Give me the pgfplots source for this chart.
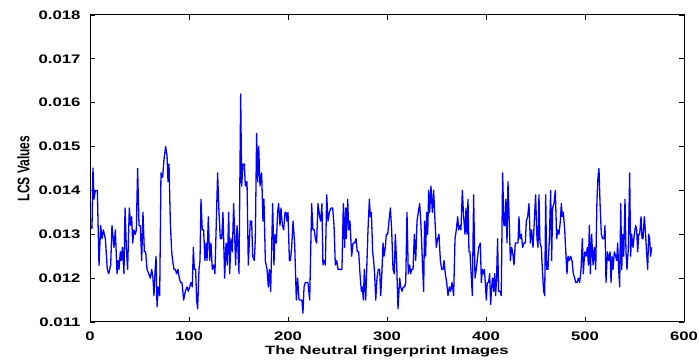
\documentclass[border=0pt]{standalone}
\usepackage{pgfplots}
\pgfplotsset{compat=1.18}
\usepackage{pgfplotstable}
\usepackage{fontspec}
\setmainfont{Liberation Sans}
\pgfplotstableread{
x y
1 0.0132
2 0.01313
3 0.01451
4 0.0138
5.4 0.0140
7.4 0.0140
9.1 0.01229
10.8 0.0132
12.1 0.0129
13.5 0.0131
15.5 0.0129
17.5 0.0122
18.9 0.0121
20.9 0.0123
22.2 0.0132
24.2 0.0127
25.6 0.0131
27.3 0.0121
28.3 0.0124
29.3 0.0122
30.6 0.0126
31.6 0.0124
32.7 0.0127
34.3 0.0121
35.4 0.0136
36.7 0.0127
38.0 0.0122
39.7 0.0136
41.1 0.0132
42.1 0.0134
43.1 0.0128
44.4 0.0131
45.8 0.0130
46.8 0.0131
48.1 0.0145
49.5 0.0132
50.8 0.0132
52.2 0.0124
53.5 0.0135
54.9 0.0126
56.2 0.0126
57.6 0.0122
59.3 0.0121
60.9 0.0120
62.3 0.0122
63.6 0.0120
64.6 0.0116
65.6 0.0121
66.7 0.0125
67.7 0.01135
69.0 0.0118
70.4 0.0116
71.7 0.0144
73.4 0.0143
74.7 0.0147
76.4 0.0150
77.8 0.0148
78.8 0.0142
79.8 0.0146
81.1 0.0133
82.5 0.0126
83.5 0.0124
84.8 0.0122
86.2 0.0122
87.5 0.0121
88.9 0.0122
90.2 0.0120
91.6 0.0119
92.9 0.0119
94.6 0.0115
96.3 0.0117
98.0 0.0118
99.3 0.0117
100.7 0.0118
102.0 0.0119
103.3 0.0118
104.4 0.0127
105.4 0.0122
106.7 0.0122
107.7 0.0115
108.7 0.0113
110.1 0.0122
111.1 0.0124
112.1 0.0138
113.4 0.0131
114.8 0.0131
116.1 0.0124
117.2 0.0128
118.2 0.0124
119.5 0.0134
120.9 0.0124
122.2 0.0128
123.5 0.0122
124.9 0.0123
126.2 0.0121
128.9 0.0144
130.3 0.0135
131.6 0.0129
133.0 0.0129
134.3 0.0135
136.0 0.0120
137.4 0.0128
138.7 0.0123
140.1 0.0135
141.1 0.0121
142.4 0.0129
143.8 0.0126
145.1 0.0137
147.1 0.0123
148.5 0.0132
150.5 0.0121
152.2 0.0162
153.2 0.0141
154.5 0.0146
155.9 0.0146
156.9 0.0141
158.6 0.0142
159.9 0.0123
161.9 0.0133
163.3 0.0133
164.3 0.0125
166.0 0.0124
167.0 0.0129
168.3 0.0153
169.4 0.0142
170.4 0.0150
171.7 0.0141
173.4 0.0144
174.7 0.0133
175.7 0.0138
177.1 0.0124
178.8 0.0122
180.1 0.0118
181.1 0.0122
182.5 0.0117
184.5 0.0137
185.8 0.0123
186.8 0.0130
188.2 0.0128
189.5 0.0135
190.5 0.0137
191.9 0.0132
192.9 0.0136
194.3 0.0132
195.6 0.0131
197.0 0.0135
198.0 0.0135
199.0 0.0133
200.0 0.0135
201.4 0.0124
202.4 0.0124
203.7 0.0127
205.1 0.0133
206.7 0.0128
208.4 0.0115
209.7 0.0120
211.1 0.0115
212.8 0.0115
214.1 0.0115
215.1 0.0112
216.2 0.0118
217.5 0.0119
218.8 0.0119
220.2 0.0119
221.9 0.0115
223.9 0.0137
225.2 0.0131
226.6 0.0131
227.6 0.0129
228.9 0.0128
230.3 0.0137
232.0 0.0134
233.0 0.0133
234.3 0.0137
235.3 0.0123
236.4 0.0124
237.7 0.0123
239.1 0.0139
240.4 0.0133
241.8 0.0135
243.4 0.0136
245.1 0.0136
246.5 0.0132
247.8 0.0123
249.2 0.0124
250.5 0.0122
251.9 0.0122
253.2 0.0122
254.5 0.0122
255.9 0.0137
257.2 0.0127
258.2 0.0136
258.9 0.0129
260.3 0.0138
261.3 0.0131
262.6 0.0133
264.3 0.0125
265.7 0.0128
267.3 0.0128
268.7 0.0129
270.0 0.0126
271.4 0.0126
272.7 0.0121
274.1 0.0117
275.1 0.0118
276.1 0.0115
277.1 0.0122
278.5 0.0115
280.8 0.0131
282.2 0.0138
283.2 0.0134
284.2 0.0135
285.5 0.0126
286.5 0.0124
287.5 0.0121
288.6 0.0115
289.9 0.0120
291.2 0.0122
292.6 0.0122
293.6 0.0116
294.6 0.0120
296.0 0.0128
297.0 0.0125
298.3 0.0127
299.3 0.0130
300.7 0.0130
302.0 0.0133
303.4 0.0136
304.7 0.0131
306.1 0.0122
307.4 0.0121
308.4 0.0130
309.8 0.0123
311.1 0.0113
312.8 0.0120
313.8 0.0118
315.2 0.0117
316.5 0.0118
317.8 0.0118
318.9 0.0119
320.2 0.0135
321.5 0.0121
322.9 0.0123
323.9 0.0121
324.9 0.0122
326.3 0.0122
327.6 0.0130
329.0 0.0124
330.3 0.0133
331.6 0.0135
333.0 0.0137
334.3 0.0132
335.7 0.0124
337.0 0.0117
338.0 0.0133
339.0 0.0125
340.1 0.0135
341.1 0.0130
342.1 0.0140
343.1 0.0135
344.4 0.0141
345.8 0.0135
347.1 0.0140
348.5 0.0133
349.8 0.0127
351.2 0.0129
352.5 0.0130
353.9 0.0124
355.2 0.0122
356.6 0.0122
357.6 0.0124
358.9 0.0121
360.3 0.0119
361.6 0.0116
363.0 0.0118
364.3 0.0117
365.7 0.0119
367.3 0.0116
368.7 0.0129
370.0 0.0131
371.4 0.0134
372.4 0.0131
373.4 0.0132
374.7 0.0131
376.1 0.0140
377.4 0.0134
378.8 0.0130
379.8 0.0136
380.8 0.0130
381.8 0.0138
382.8 0.0126
383.8 0.0126
385.2 0.0120
386.2 0.0116
387.5 0.0139
388.9 0.0120
390.2 0.0122
391.6 0.0125
392.6 0.0127
394.3 0.0128
395.3 0.0119
396.3 0.0122
397.3 0.0121
398.3 0.0122
399.3 0.0119
400.3 0.0115
401.3 0.0119
402.6 0.0119
403.7 0.0121
404.7 0.0114
405.7 0.0118
406.7 0.0120
407.7 0.0117
408.7 0.0121
409.7 0.0116
410.7 0.0120
411.7 0.0129
412.7 0.0117
414.1 0.0117
415.4 0.0116
416.8 0.0144
418.1 0.0132
419.1 0.0132
420.1 0.0138
421.2 0.0128
422.2 0.0142
423.2 0.0135
424.6 0.0124
425.9 0.0127
426.9 0.0126
428.3 0.0123
429.6 0.0128
431.0 0.0128
432.3 0.0128
433.3 0.0134
434.3 0.0129
435.7 0.0130
437.0 0.0127
438.4 0.0128
439.7 0.0128
440.7 0.0133
442.1 0.0134
443.4 0.0137
444.8 0.0128
446.1 0.0131
447.5 0.0127
448.8 0.0133
450.1 0.0139
451.5 0.0129
452.5 0.0127
453.5 0.0139
454.5 0.0128
455.9 0.0127
456.9 0.0122
458.2 0.0117
459.3 0.0116
460.3 0.0139
461.3 0.0122
462.6 0.0122
464.0 0.0129
465.3 0.0140
466.3 0.0124
467.3 0.0136
468.7 0.0137
470.0 0.0140
471.4 0.0129
472.4 0.0131
473.7 0.0130
475.1 0.0133
476.1 0.0137
477.1 0.0134
478.1 0.0135
479.5 0.0131
480.8 0.0125
481.8 0.0121
482.8 0.0125
484.2 0.0124
485.5 0.0125
486.9 0.0124
488.2 0.0121
489.6 0.0120
490.6 0.0119
491.9 0.0119
493.3 0.0120
494.6 0.0119
496.0 0.0122
497.3 0.0129
498.3 0.0121
499.7 0.0126
501.0 0.0125
502.4 0.0127
503.4 0.0123
504.4 0.0132
505.4 0.0121
506.7 0.0130
508.1 0.0123
509.4 0.0127
510.8 0.0122
512.1 0.0138
513.1 0.0143
514.1 0.0145
515.2 0.0137
516.5 0.0130
517.8 0.0129
519.2 0.0129
520.2 0.0132
521.2 0.0119
522.6 0.0126
523.9 0.0124
525.3 0.0126
526.3 0.0119
527.3 0.0125
528.3 0.0122
529.6 0.0126
531.0 0.0125
532.0 0.0124
533.0 0.0128
534.0 0.0122
535.0 0.0118
536.1 0.0137
537.1 0.0122
538.1 0.0130
539.1 0.0125
540.4 0.0138
541.4 0.0126
542.4 0.0122
543.8 0.0127
545.1 0.0144
546.1 0.0125
547.1 0.0130
548.5 0.0127
549.8 0.0130
551.2 0.0132
552.2 0.0131
553.2 0.0126
554.2 0.0130
555.2 0.0130
556.6 0.0134
557.6 0.0129
558.6 0.0129
559.9 0.0134
560.9 0.0131
561.9 0.0127
563.3 0.0122
564.3 0.0130
565.3 0.0129
566.3 0.0125
567.3 0.0127
}\lcsdata
\begin{document}
\begin{tikzpicture}
\useasboundingbox (-45pt,-20pt) rectangle (304.5pt,161pt);
\begin{axis}[
  at={(0pt,0pt)}, anchor=south west,
  scale only axis, width=297pt, height=153.5pt,
  xmin=0, xmax=600, ymin=0.011, ymax=0.018,
  xtick={0,100,...,600},
  ytick={0.011,0.012,0.013,0.014,0.015,0.016,0.017,0.018},
  scaled y ticks=false,
  yticklabel style={/pgf/number format/.cd, fixed, fixed zerofill, precision=3, /tikz/.cd},
  /pgf/number format/assume math mode=true,
  tick align=inside, major tick length=2.5pt,
  tick style={black, line width=0.4pt},
  axis line style={black, line width=0.5pt},
  ticklabel style={font=\fontsize{6.2}{7.4}\selectfont\bfseries},
  xticklabel style={xscale=1.35, yshift=-1.5pt},
  yticklabel style={xscale=1.35},
  xlabel={The Neutral fingerprint Images},
  ylabel={LCS Values},
  label style={font=\fontsize{6}{7.2}\selectfont\bfseries},
  xlabel style={at={(axis description cs:0.5,-0.096)}, anchor=center, xscale=1.4},
  ylabel style={at={(axis description cs:-0.112,0.5)}, anchor=center, yscale=1.4},
]
\addplot[color={rgb,255:red,0;green,0;blue,255}, line width=0.65pt, line join=round] table[x=x, y=y] {\lcsdata};
\end{axis}
\end{tikzpicture}
\end{document}
